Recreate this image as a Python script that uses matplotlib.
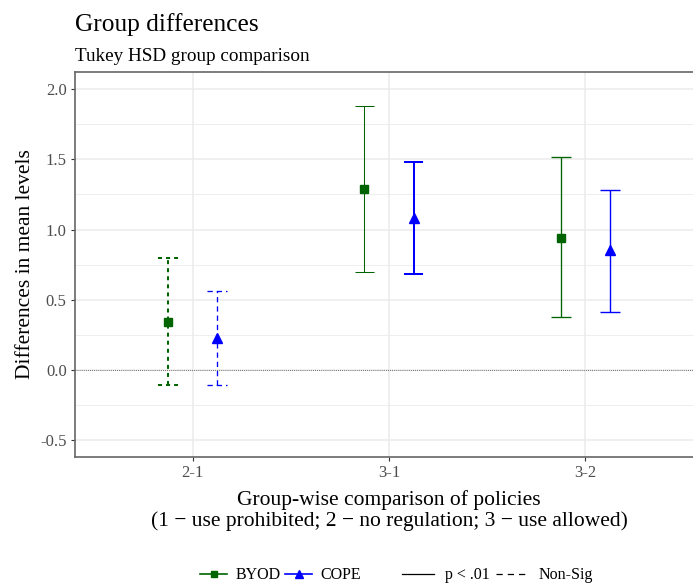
import matplotlib
matplotlib.use('Agg')
import matplotlib.pyplot as plt
from matplotlib.lines import Line2D
from matplotlib.ticker import MultipleLocator
import numpy as np

# Tukey HSD results per comparison
comparisons = ['2-1', '3-1', '3-2']
byod_diff = [0.34, 1.29, 0.94]
byod_lwr = [-0.11, 0.70, 0.375]
byod_upr = [0.80, 1.88, 1.515]
byod_sig = [False, True, True]
cope_diff = [0.23, 1.08, 0.855]
cope_lwr = [-0.11, 0.685, 0.415]
cope_upr = [0.565, 1.48, 1.285]
cope_sig = [False, True, True]

# line widths as drawn in the original (points)
byod_lw = [1.45, 0.75, 0.95]
cope_lw = [0.95, 1.45, 1.0]

plt.rcParams['font.family'] = ['Liberation Serif', 'DejaVu Serif']

fig = plt.figure(figsize=(6.93, 5.87), dpi=100)
ax = fig.add_axes([0.1082, 0.2215, 0.9062, 0.6558])

x = np.arange(len(comparisons))
dodge = 0.125
cap = 0.05


def draw_series(xpos, diff, lwr, upr, sig, lws, color, marker, msize, dash):
    for xi, d, lo, hi, s, lw in zip(xpos, diff, lwr, upr, sig, lws):
        ls = '-' if s else (0, dash)
        ax.vlines(xi, lo, hi, color=color, lw=lw, linestyle=ls, zorder=3)
        ax.hlines([lo, hi], xi - cap, xi + cap, color=color, lw=lw, linestyle=ls, zorder=3)
        ax.plot(xi, d, marker=marker, color=color, ms=msize, zorder=4)


draw_series(x - dodge, byod_diff, byod_lwr, byod_upr, byod_sig, byod_lw, '#006400', 's', 5.5, (2, 2))
draw_series(x + dodge, cope_diff, cope_lwr, cope_upr, cope_sig, cope_lw, '#0000FF', '^', 6.5, (4, 3))

ax.axhline(0, color='#444444', lw=0.6, linestyle=(0, (1, 1.5)), zorder=2)

ax.set_xlim(-0.6, 2.6)
ax.set_ylim(-0.621, 2.123)
ax.set_xticks(x)
ax.set_xticklabels(comparisons)
ax.yaxis.set_minor_locator(MultipleLocator(0.25))
ax.set_yticks([-0.5, 0.0, 0.5, 1.0, 1.5, 2.0])
ax.set_yticklabels(['-0.5', '0.0', '0.5', '1.0', '1.5', '2.0'])

ax.grid(True, which='major', color='#EBEBEB', lw=1.1, zorder=0)
ax.grid(True, which='minor', axis='y', color='#EBEBEB', lw=0.6, zorder=0)
ax.set_axisbelow(True)
ax.tick_params(axis='both', which='major', length=3, width=0.8, color='#333333',
               labelsize=12, labelcolor='#4D4D4D', pad=3)
ax.tick_params(axis='y', which='minor', length=0)
for sp in ax.spines.values():
    sp.set_color('#666666')
    sp.set_linewidth(1.2)

ax.set_ylabel('Differences in mean levels', fontsize=15.5, labelpad=4)
ax.set_xlabel('Group-wise comparison of policies\n(1 \u2212 use prohibited; 2 \u2212 no regulation; 3 \u2212 use allowed)',
              fontsize=15.5, labelpad=6, linespacing=1.1)

fig.text(0.108, 0.958, 'Group differences', fontsize=18.3, va='center', ha='left')
fig.text(0.108, 0.904, 'Tukey HSD group comparison', fontsize=13.8, va='center', ha='left')

# legends
h1 = [Line2D([], [], color='#006400', marker='s', ms=5, lw=1.2),
      Line2D([], [], color='#0000FF', marker='^', ms=6, lw=1.2)]
leg1 = fig.legend(h1, ['BYOD', 'COPE'], loc='center', bbox_to_anchor=(0.405, 0.02),
                  ncol=2, frameon=False, fontsize=11.5, handlelength=1.7,
                  handletextpad=0.5, columnspacing=0.3)
h2 = [Line2D([], [], color='black', lw=0.9),
      Line2D([], [], color='black', lw=0.9, linestyle=(0, (5, 4)))]
leg2 = fig.legend(h2, ['p < .01', 'Non-Sig'], loc='center', bbox_to_anchor=(0.718, 0.02),
                  ncol=2, frameon=False, fontsize=11.5, handlelength=2.0,
                  handletextpad=0.7, columnspacing=0.4)

fig.savefig('out.png', dpi=100)
